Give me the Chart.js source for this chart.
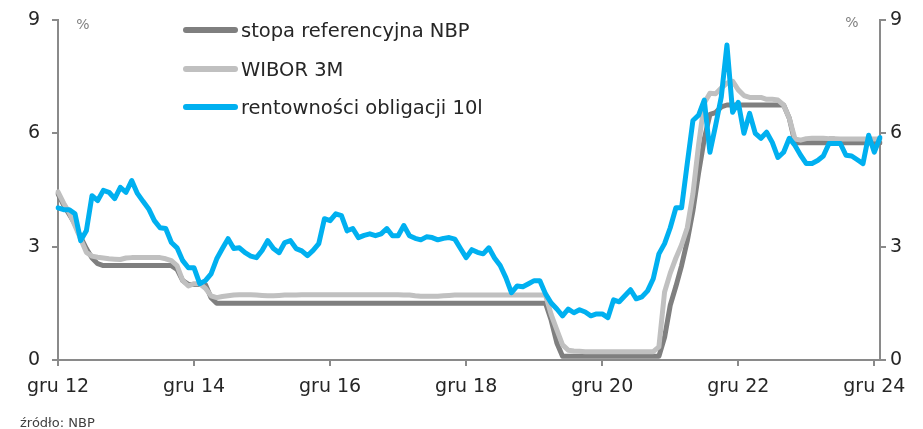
<!DOCTYPE html>
<html>
<head>
<meta charset="utf-8">
<script src="https://cdn.jsdelivr.net/npm/chart.js@4.4.1/dist/chart.umd.min.js"></script>
<style>
  html, body { margin: 0; padding: 0; background: #fff; }
</style>
</head>
<body>
<canvas id="chart" width="923" height="429"></canvas>
<script>
// ============================== DANE ==============================
const monthNames = ['sty', 'lut', 'mar', 'kwi', 'maj', 'cze', 'lip', 'sie', 'wrz', 'paź', 'lis', 'gru'];
const tickLabels = ['gru 12', 'gru 14', 'gru 16', 'gru 18', 'gru 20', 'gru 22', 'gru 24'];
const seriesNames = ['stopa referencyjna NBP', 'WIBOR 3M', 'rentowności obligacji 10l'];

// miesięcznie od gru 2012 do sty 2025
const refRate = [
    4.4, 4.1, 3.85, 3.6, 3.25, 2.95, 2.7, 2.55, 2.5, 2.5, 2.5, 2.5,
    2.5, 2.5, 2.5, 2.5, 2.5, 2.5, 2.5, 2.5, 2.5, 2.4, 2.1, 2.0,
    2.0, 2.0, 2.0, 1.65, 1.5, 1.5, 1.5, 1.5, 1.5, 1.5, 1.5, 1.5,
    1.5, 1.5, 1.5, 1.5, 1.5, 1.5, 1.5, 1.5, 1.5, 1.5, 1.5, 1.5,
    1.5, 1.5, 1.5, 1.5, 1.5, 1.5, 1.5, 1.5, 1.5, 1.5, 1.5, 1.5,
    1.5, 1.5, 1.5, 1.5, 1.5, 1.5, 1.5, 1.5, 1.5, 1.5, 1.5, 1.5,
    1.5, 1.5, 1.5, 1.5, 1.5, 1.5, 1.5, 1.5, 1.5, 1.5, 1.5, 1.5,
    1.5, 1.5, 1.5, 1.05, 0.45, 0.1, 0.1, 0.1, 0.1, 0.1, 0.1, 0.1,
    0.1, 0.1, 0.1, 0.1, 0.1, 0.1, 0.1, 0.1, 0.1, 0.1, 0.1, 0.6,
    1.45, 1.95, 2.5, 3.15, 3.95, 4.95, 5.85, 6.5, 6.55, 6.7, 6.75, 6.75,
    6.75, 6.75, 6.75, 6.75, 6.75, 6.75, 6.75, 6.75, 6.75, 6.4, 5.75, 5.75,
    5.75, 5.75, 5.75, 5.75, 5.75, 5.75, 5.75, 5.75, 5.75, 5.75, 5.75, 5.75,
    5.75, 5.75
];

const wibor3m = [
    4.45, 4.15, 3.9, 3.55, 3.2, 2.85, 2.75, 2.72, 2.7, 2.68, 2.67, 2.66,
    2.7, 2.71, 2.71, 2.71, 2.71, 2.71, 2.71, 2.68, 2.63, 2.5, 2.1, 1.96,
    2.02, 2.02, 1.9, 1.7, 1.65, 1.68, 1.7, 1.72, 1.73, 1.73, 1.73, 1.72,
    1.71, 1.7, 1.7, 1.71, 1.72, 1.72, 1.72, 1.73, 1.73, 1.73, 1.73, 1.73,
    1.73, 1.73, 1.73, 1.73, 1.73, 1.73, 1.73, 1.73, 1.73, 1.73, 1.73, 1.73,
    1.73, 1.72, 1.72, 1.7, 1.69, 1.69, 1.69, 1.69, 1.7, 1.71, 1.72, 1.72,
    1.72, 1.72, 1.72, 1.72, 1.72, 1.72, 1.72, 1.72, 1.72, 1.72, 1.72, 1.72,
    1.72, 1.72, 1.72, 1.2, 0.8, 0.4, 0.26, 0.24, 0.23, 0.22, 0.22, 0.22,
    0.22, 0.22, 0.22, 0.22, 0.22, 0.22, 0.22, 0.22, 0.22, 0.22, 0.35, 1.8,
    2.3, 2.7, 3.05, 3.5, 4.4, 5.7, 6.8, 7.06, 7.05, 7.2, 7.33, 7.38,
    7.15, 7.0, 6.95, 6.95, 6.95, 6.9, 6.9, 6.88, 6.75, 6.4, 5.85, 5.82,
    5.86, 5.87, 5.87, 5.87, 5.86, 5.86, 5.85, 5.85, 5.85, 5.85, 5.85, 5.85,
    5.85, 5.85
];

const bond10y = [
    4.03, 3.98, 3.98, 3.87, 3.16, 3.42, 4.35, 4.22, 4.49, 4.44, 4.27, 4.57,
    4.44, 4.75, 4.41, 4.2, 4.0, 3.69, 3.5, 3.48, 3.11, 2.97, 2.63, 2.44,
    2.44, 2.02, 2.1, 2.28, 2.68, 2.95, 3.21, 2.95, 2.97, 2.84, 2.75, 2.71,
    2.9, 3.16, 2.95, 2.84, 3.11, 3.16, 2.95, 2.89, 2.76, 2.9, 3.08, 3.74,
    3.69, 3.87, 3.82, 3.42, 3.48, 3.24, 3.3, 3.34, 3.29, 3.34, 3.48, 3.29,
    3.29, 3.56, 3.29, 3.22, 3.18, 3.26, 3.24, 3.18, 3.22, 3.24, 3.2, 2.95,
    2.71, 2.92, 2.85, 2.81, 2.97, 2.7, 2.5, 2.18, 1.78, 1.96, 1.94, 2.02,
    2.1, 2.1, 1.75, 1.51, 1.35, 1.17, 1.35, 1.25, 1.33, 1.27, 1.17, 1.22,
    1.22, 1.12, 1.59, 1.54, 1.7, 1.86, 1.62, 1.67, 1.83, 2.15, 2.81, 3.08,
    3.5, 4.03, 4.03, 5.2, 6.34, 6.48, 6.88, 5.5, 6.21, 6.96, 8.34, 6.56,
    6.82, 6.0, 6.53, 6.0, 5.87, 6.03, 5.76, 5.36, 5.5, 5.87, 5.68, 5.42,
    5.2, 5.2, 5.28, 5.4, 5.73, 5.73, 5.73, 5.42, 5.4, 5.3, 5.2, 5.95,
    5.5, 5.89
];

// kategorie - kolejne miesiące od grudnia 2012
const categories = refRate.map((v, i) => {
    const m = (11 + i) % 12;
    const y = 12 + Math.floor((11 + i) / 12);
    return monthNames[m] + ' ' + y;
});

// ============================== WYGLĄD ==============================
const FONT = '"DejaVu Sans", sans-serif';
const AXIS = '#8a8a8a';
const TEXT = '#262626';

// legenda, znaki % i źródło rysowane ręcznie
const extras = {
    id: 'extras',
    afterDraw(chart) {
        const ctx = chart.ctx;
        ctx.save();
        const rowY = [30, 69, 107];
        chart.data.datasets.forEach((ds, i) => {
            ctx.strokeStyle = ds.borderColor;
            ctx.lineWidth = 6;
            ctx.lineCap = 'round';
            ctx.beginPath();
            ctx.moveTo(186, rowY[i]);
            ctx.lineTo(235, rowY[i]);
            ctx.stroke();
            ctx.fillStyle = TEXT;
            ctx.font = '19.5px ' + FONT;
            ctx.textBaseline = 'alphabetic';
            ctx.textAlign = 'left';
            ctx.fillText(ds.label, 241, rowY[i] + 7);
        });
        ctx.fillStyle = '#808080';
        ctx.font = '14px ' + FONT;
        ctx.textAlign = 'center';
        ctx.fillText('%', 83, 29);
        ctx.fillText('%', 852, 27);
        ctx.fillStyle = '#404040';
        ctx.font = '13px ' + FONT;
        ctx.textAlign = 'left';
        ctx.fillText('źródło: NBP', 20, 427);
        ctx.restore();
    }
};

function yAxis(position, width, pad) {
    return {
        position: position,
        min: 0,
        max: 9,
        ticks: { stepSize: 3, padding: pad, color: TEXT, font: { family: FONT, size: 19 } },
        grid: { drawOnChartArea: false, drawTicks: true, tickLength: 6, color: AXIS, lineWidth: 2 },
        border: { color: AXIS, width: 2 },
        afterFit: (s) => {
            s.width = width;
            s.paddingTop = 0;
            s.paddingBottom = 0;
        }
    };
}

new Chart(document.getElementById('chart').getContext('2d'), {
    type: 'line',
    data: {
        labels: categories,
        datasets: [
            { label: seriesNames[0], data: refRate, borderColor: '#7f7f7f', order: 3 },
            { label: seriesNames[1], data: wibor3m, borderColor: '#c0c0c0', order: 2 },
            { label: seriesNames[2], data: bond10y, borderColor: '#00b0f0', order: 1 }
        ]
    },
    options: {
        responsive: false,
        animation: false,
        devicePixelRatio: 1,
        layout: { padding: { top: 20, left: 0, right: 0, bottom: 0 } },
        elements: {
            line: { borderWidth: 5, tension: 0, borderJoinStyle: 'round', borderCapStyle: 'round', fill: false },
            point: { radius: 0 }
        },
        plugins: { legend: { display: false }, tooltip: { enabled: false } },
        scales: {
            x: {
                type: 'category',
                offset: false,
                grid: { drawOnChartArea: false, drawTicks: true, tickLength: 6, color: AXIS, lineWidth: 2 },
                border: { color: AXIS, width: 2 },
                ticks: { autoSkip: false, maxRotation: 0, padding: 10, color: TEXT, font: { family: FONT, size: 19 } },
                afterBuildTicks: (s) => { s.ticks = s.ticks.filter(t => tickLabels.includes(categories[t.value])); },
                afterFit: (s) => { s.height = 69; }
            },
            y: yAxis('left', 58, 12),
            y2: yAxis('right', 43, 4)
        }
    },
    plugins: [extras]
});
</script>
</body>
</html>
